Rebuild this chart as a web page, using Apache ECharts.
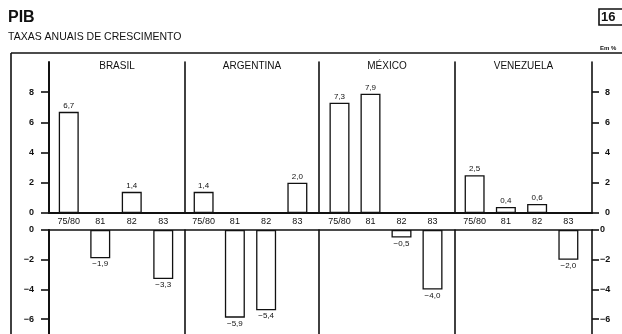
<!DOCTYPE html>
<html>
<head>
<meta charset="utf-8">
<script src="https://cdn.jsdelivr.net/npm/echarts@6/dist/echarts.min.js"></script>
<style>
  html, body { margin: 0; padding: 0; background: #fff; }
  #chart { width: 622px; height: 334px; }
</style>
</head>
<body>
<div id="chart"></div>
<script>
// PIB — annual growth rates (%), by country and period
const countries = ['BRASIL', 'ARGENTINA', 'MÉXICO', 'VENEZUELA'];
const periods = ['75/80', '81', '82', '83'];
const brasil = [6.7, -1.9, 1.4, -3.3];
const argentina = [1.4, -5.9, -5.4, 2.0];
const mexico = [7.3, 7.9, -0.5, -4.0];
const venezuela = [2.5, 0.4, 0.6, -2.0];
const upperTicks = [0, 2, 4, 6, 8];
const lowerTicks = [0, -2, -4, -6];

const FONT = 'Liberation Sans, Arial, sans-serif';
const INK = '#111';

// panel geometry: category band area and the divider line position to its left
const panelLeft = [53, 188, 324, 459];
const panelWidth = [126, 125, 124, 125];
const dividerX = [49, 185, 319, 455];
const axisRightX = 592;
const upperTop = 62, upperH = 151;   // 10 .. 0
const lowerTop = 230, lowerH = 105;  // 0 .. -7

const fmtValue = v => (v < 0 ? '\u2212' : '') + Math.abs(v).toFixed(1).replace('.', ',');
const fmtAxis = v => (v < 0 ? '\u2212' + Math.abs(v) : String(v));

const panelData = [brasil, argentina, mexico, venezuela];

// two full-width grids carry the zero lines and the outer value axes
const grid = [
  { left: 49, width: axisRightX - 49, top: upperTop, height: upperH },
  { left: 49, width: axisRightX - 49, top: lowerTop, height: lowerH }
];
const xAxis = [
  { gridIndex: 0, type: 'value', min: 0, max: 1, axisLine: { show: true, onZero: false, lineStyle: { color: INK, width: 2 } },
    axisTick: { show: false }, axisLabel: { show: false }, splitLine: { show: false } },
  { gridIndex: 1, type: 'value', min: 0, max: 1, position: 'top', axisLine: { show: true, onZero: false, lineStyle: { color: INK, width: 1.6 } },
    axisTick: { show: false }, axisLabel: { show: false }, splitLine: { show: false } }
];
const yAxis = [];

function sideAxis(gi, pos, min, max, ticks, tickLen, labelMargin) {
  return {
    gridIndex: gi, type: 'value', position: pos, min: min, max: max,
    axisLine: { show: true, onZero: false, lineStyle: { color: INK, width: pos === 'left' ? 2 : 1.6 } },
    axisTick: { show: true, inside: false, length: tickLen, customValues: ticks, lineStyle: { color: INK, width: 1.6 } },
    axisLabel: { show: true, customValues: ticks, margin: labelMargin, formatter: fmtAxis,
      fontFamily: FONT, fontSize: 9, fontWeight: 'bold', color: INK,
      align: pos === 'left' ? 'right' : 'left' },
    splitLine: { show: false }
  };
}
yAxis.push(sideAxis(0, 'left', 0, 10, upperTicks, 8, 15));
yAxis.push(sideAxis(0, 'right', 0, 10, upperTicks, 7, 13));
yAxis.push(sideAxis(1, 'left', -7, 0, lowerTicks, 8, 15));
yAxis.push(sideAxis(1, 'right', -7, 0, lowerTicks, 7, 8));

// one upper (positive) and one lower (negative) grid per country
const seriesList = [];
panelData.forEach((vals, i) => {
  grid.push({ left: panelLeft[i], width: panelWidth[i], top: upperTop, height: upperH });
  grid.push({ left: panelLeft[i], width: panelWidth[i], top: lowerTop, height: lowerH });
  const gU = 2 + i * 2, gL = 3 + i * 2;

  xAxis.push({ gridIndex: gU, type: 'category', data: periods,
    axisLine: { show: false }, axisTick: { show: false },
    axisLabel: { margin: 4, fontFamily: FONT, fontSize: 9, color: INK, interval: 0 } });
  xAxis.push({ gridIndex: gL, type: 'category', data: periods, position: 'top', show: false });

  const divider = {
    show: i > 0, offset: panelLeft[i] - dividerX[i],
    axisLine: { show: true, onZero: false, lineStyle: { color: INK, width: 1.6 } },
    axisTick: { show: false }, axisLabel: { show: false }, splitLine: { show: false }
  };
  yAxis.push(Object.assign({ gridIndex: gU, type: 'value', min: 0, max: 10 }, divider));
  yAxis.push(Object.assign({ gridIndex: gL, type: 'value', min: -7, max: 0 }, divider));

  const barStyle = { color: '#fff', borderColor: INK, borderWidth: 1.3 };
  const labelBase = { show: true, distance: 2, fontFamily: FONT, fontSize: 8, color: INK,
    formatter: p => fmtValue(p.value) };
  seriesList.push({
    name: countries[i], type: 'bar', xAxisIndex: 2 + i * 2, yAxisIndex: 4 + i * 2,
    data: vals.map(v => (v > 0 ? v : '-')), barWidth: 20, itemStyle: barStyle,
    label: Object.assign({ position: 'top' }, labelBase), silent: true
  });
  seriesList.push({
    name: countries[i], type: 'bar', xAxisIndex: 3 + i * 2, yAxisIndex: 5 + i * 2,
    data: vals.map(v => (v < 0 ? v : '-')), barWidth: 20, itemStyle: barStyle,
    label: Object.assign({ position: 'bottom' }, labelBase), silent: true
  });
});

// country headings centred over each panel
const headingX = [117, 252, 387, 523.5];
const headings = countries.map((c, i) => ({
  type: 'text', x: headingX[i], y: 66,
  style: { text: c, fill: INK, font: '10px ' + FONT, textAlign: 'center', textVerticalAlign: 'middle' }
}));

const chart = echarts.init(document.getElementById('chart'), null, { renderer: 'canvas' });
chart.setOption({
  animation: false,
  backgroundColor: '#fff',
  title: [
    { text: 'PIB', left: 8, top: 10, padding: 0,
      textStyle: { fontFamily: FONT, fontSize: 16, fontWeight: 'bold', color: INK } },
    { text: 'TAXAS ANUAIS DE CRESCIMENTO', left: 8, top: 32, padding: 0,
      textStyle: { fontFamily: FONT, fontSize: 10.5, fontWeight: 'normal', color: INK } }
  ],
  grid: grid,
  xAxis: xAxis,
  yAxis: yAxis,
  series: seriesList,
  graphic: [
    // outer frame (top and left edges)
    { type: 'line', shape: { x1: 11, y1: 53, x2: 622, y2: 53 }, style: { stroke: INK, lineWidth: 1.6 } },
    { type: 'line', shape: { x1: 11, y1: 53, x2: 11, y2: 334 }, style: { stroke: INK, lineWidth: 1.6 } },
    // chart number box and unit
    { type: 'rect', shape: { x: 599, y: 9, width: 30, height: 16 }, style: { fill: 'none', stroke: INK, lineWidth: 1.6 } },
    { type: 'text', x: 601, y: 17, style: { text: '16', fill: INK, font: 'bold 13px ' + FONT, textVerticalAlign: 'middle' } },
    { type: 'text', x: 600, y: 48, style: { text: 'Em %', fill: INK, font: 'bold 6px ' + FONT, textVerticalAlign: 'middle' } }
  ].concat(headings)
});
</script>
</body>
</html>
